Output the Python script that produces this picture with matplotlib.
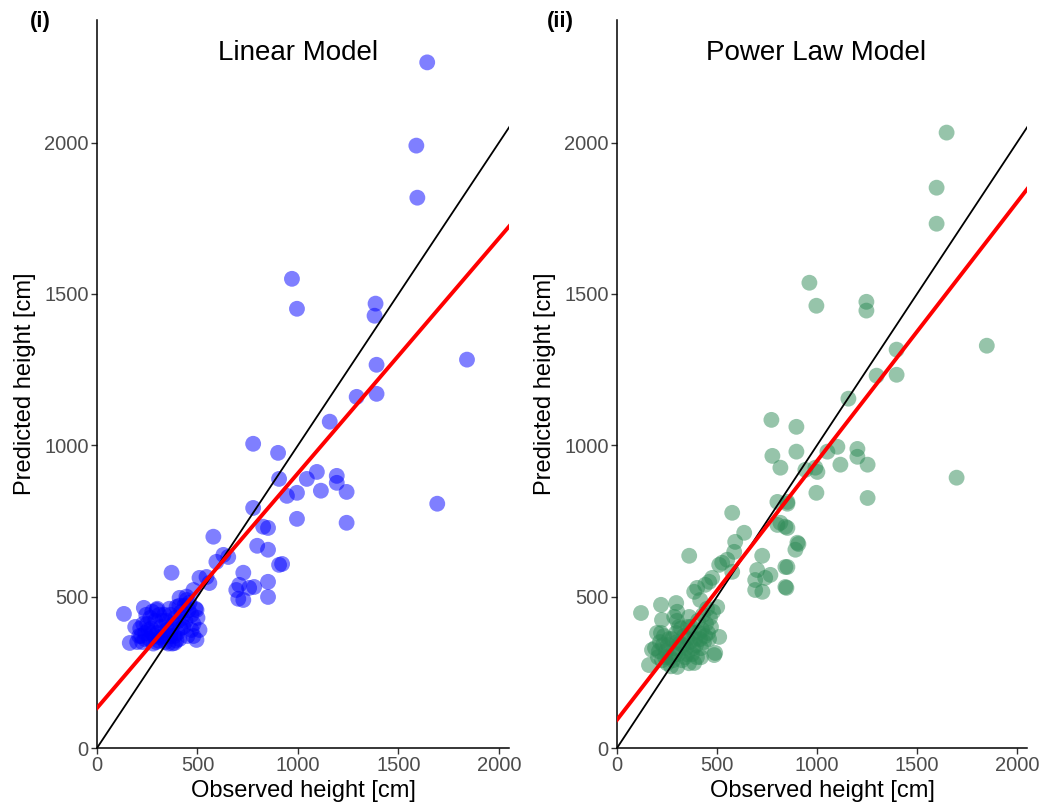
import numpy as np
import matplotlib
matplotlib.use("Agg")
import matplotlib.pyplot as plt

plt.rcParams['font.family'] = ['Liberation Sans', 'DejaVu Sans']

# linear model panel: observed vs predicted height [cm]
obs_lin = [1643, 1589, 1594, 970, 995, 1386, 1381, 1841, 1391, 1391, 1292, 1158, 777, 901,
           1693, 906, 1044, 1094, 1193, 1193, 1242, 1114, 945, 995, 995, 1242, 906, 921,
           777, 827, 851, 579, 797, 851, 629, 653, 594, 371, 728, 510, 545, 559, 708, 757,
           693, 782, 851, 851, 703, 728, 480, 411, 446, 396, 495, 134, 233, 297, 495, 510,
           386, 163,
           190, 210, 225, 240, 250, 260, 270, 280, 290, 300, 305, 310, 320, 330, 340, 345,
           350, 360, 365, 375, 380, 390, 400, 410, 420, 430, 440, 450, 460, 470, 480, 245,
           230, 215, 265, 285, 295, 315, 335, 355, 370, 385, 395, 405, 415, 425, 435, 445,
           455, 220, 200, 275, 325, 345, 365, 300, 275, 255, 238, 410, 490, 480, 470, 500]
pred_lin = [2265, 1990, 1818, 1550, 1451, 1468, 1428, 1283, 1266, 1170, 1160, 1078, 1005, 975,
            807, 889, 889, 912, 899, 876, 846, 850, 833, 843, 757, 744, 605, 608,
            793, 731, 727, 698, 668, 655, 638, 631, 615, 579, 579, 562, 565, 545, 539, 529,
            522, 532, 549, 499, 493, 489, 522, 496, 489, 466, 456, 443, 463, 456, 357, 390,
            347, 347,
            400, 370, 350, 380, 410, 360, 395, 345, 420, 380, 355, 440, 400, 370, 350, 420,
            390, 460, 370, 345, 410, 430, 380, 360, 450, 400, 420, 370, 480, 440, 410, 440,
            410, 395, 430, 370, 350, 365, 440, 345, 395, 370, 355, 420, 395, 430, 470, 500,
            455, 370, 350, 380, 420, 390, 440, 460, 450, 390, 360, 470, 460, 370, 390, 430]

# power law model panel
obs_pow = [1648, 1598, 1598, 962, 997, 1247, 1247, 1849, 1398, 1398, 1298, 1157, 772, 897,
           1698, 897, 1052, 1102, 1202, 1202, 1253, 1117, 992, 1002, 942, 817, 997, 1253,
           852, 817, 852, 907, 892, 852, 847, 777,
           576, 802, 852, 842, 802, 636, 591, 902, 361, 726, 586, 551, 526, 511, 842, 576,
           701, 691, 767, 741, 842, 691, 727, 476, 401, 441, 461, 386, 501, 220, 296, 120,
           301, 416, 225, 286, 361, 511, 486, 491, 200, 175, 160, 386, 301,
           190, 205, 215, 225, 235, 245, 255, 265, 275, 285, 295, 305, 315, 325, 335, 345,
           355, 365, 375, 385, 395, 405, 415, 425, 435, 445, 455, 465, 250, 270, 320, 340,
           360, 380, 400, 420, 440, 210, 230, 260, 280, 300, 310, 330, 350, 370, 390, 410,
           430, 450, 470, 480, 290, 240, 220, 300, 350, 420, 460]
pred_pow = [2033, 1851, 1732, 1537, 1461, 1474, 1445, 1329, 1316, 1233, 1230, 1154, 1084, 1061,
            893, 979, 979, 995, 988, 962, 936, 936, 926, 912, 919, 926, 843, 826,
            807, 744, 727, 674, 655, 598, 529, 965,
            777, 813, 813, 731, 737, 711, 681, 678, 635, 635, 648, 622, 612, 605, 598, 582,
            588, 555, 572, 562, 532, 522, 516, 562, 529, 539, 549, 516, 466, 473, 479, 446,
            450, 489, 423, 433, 433, 367, 307, 314, 380, 324, 274, 281, 268,
            330, 300, 350, 290, 370, 320, 340, 300, 360, 330, 380, 310, 345, 290, 370, 330,
            400, 350, 310, 380, 340, 420, 360, 390, 350, 410, 380, 430, 280, 270, 395, 300,
            280, 330, 300, 330, 370, 320, 340, 360, 290, 350, 400, 340, 360, 400, 360, 380,
            440, 460, 400, 450, 310, 300, 380, 420, 310, 300, 360]

# fitted regression lines (intercept, slope)
lin_fit = (132, 0.776)
pow_fit = (93, 0.855)

W, H = 1041, 807
fig = plt.figure(figsize=(W / 100, H / 100), dpi=100)

def make_ax(x0, x1, y0, y1):
    return fig.add_axes([x0 / W, 1 - y1 / H, (x1 - x0) / W, (y1 - y0) / H])

def panel(ax, obs, pred, fit, color):
    ax.scatter(obs, pred, s=130, color=color, alpha=0.5, edgecolors='none', zorder=2)
    xs = np.array([0, 2100])
    ax.plot(xs, xs, color='black', lw=1.3, zorder=3)
    ax.plot(xs, fit[0] + fit[1] * xs, color='red', lw=2.8, zorder=4)
    ax.set_xlim(0, 2050)
    ax.set_ylim(0, 2405)
    ax.set_xticks([0, 500, 1000, 1500, 2000])
    ax.set_yticks([0, 500, 1000, 1500, 2000])
    for s in ['top', 'right']:
        ax.spines[s].set_visible(False)
    for s in ['left', 'bottom']:
        ax.spines[s].set_linewidth(1.1)
    ax.tick_params(labelsize=14.5, labelcolor='#4d4d4d', color='#333333',
                   length=4, width=1.0, pad=2)
    ax.set_xlabel('Observed height [cm]', fontsize=17, labelpad=3)
    ax.set_ylabel('Predicted height [cm]', fontsize=17, labelpad=6)

ax1 = make_ax(97, 509, 20, 748)
panel(ax1, obs_lin, pred_lin, lin_fit, '#0000ff')
ax2 = make_ax(617, 1027, 20, 748)
panel(ax2, obs_pow, pred_pow, pow_fit, '#2e8b57')

fig.text(298 / W, 1 - 53 / H, 'Linear Model', fontsize=20, ha='center', va='center')
fig.text(816 / W, 1 - 53 / H, 'Power Law Model', fontsize=20, ha='center', va='center')
fig.text(40 / W, 1 - 22 / H, '(i)', fontsize=16, fontweight='bold', ha='center', va='center')
fig.text(560 / W, 1 - 22 / H, '(ii)', fontsize=16, fontweight='bold', ha='center', va='center')

fig.savefig('out.png', dpi=100)
